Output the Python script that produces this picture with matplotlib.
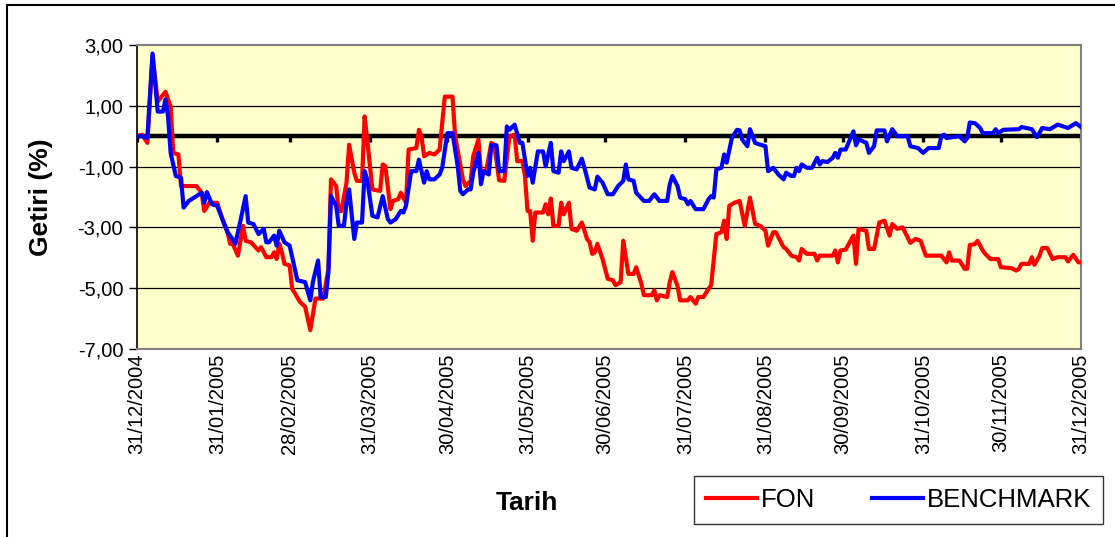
import numpy as np
import pandas as pd
import matplotlib
matplotlib.use('Agg')
import matplotlib.pyplot as plt
from matplotlib.patches import Rectangle

plt.rcParams['font.family'] = ['Liberation Sans', 'DejaVu Sans']

# days since 31/12/2004 and daily return (%)
fon_day = [0, 2, 4, 6, 8, 11, 13, 14, 16, 17, 23, 25, 26, 28, 31, 33, 35, 36, 37, 39,
           41, 42, 44, 47, 48, 50, 52, 53, 54, 55, 56, 57, 59, 60, 63, 65, 67, 69, 72, 74,
           75, 77, 78, 79, 81, 82, 84, 85, 87, 88, 89, 91, 94, 95, 96, 98, 99, 101, 102, 104,
           105, 108, 109, 110, 111, 113, 115, 117, 119, 122, 123, 126, 127, 129, 130, 132, 133, 135, 137, 138,
           139, 140, 142, 144, 146, 147, 149, 150, 151, 152, 153, 154, 157, 158, 159, 160, 161, 163, 164, 165,
           167, 168, 170, 172, 174, 175, 176, 177, 178, 180, 182, 184, 185, 187, 188, 190, 192, 193, 195, 196,
           199, 200, 201, 202, 205, 206, 207, 209, 210, 213, 214, 216, 217, 219, 221, 222, 224, 226, 227, 228,
           229, 231, 233, 235, 237, 239, 241, 243, 244, 246, 247, 250, 251, 253, 255, 256, 257, 259, 262, 263,
           264, 269, 270, 271, 272, 274, 277, 278, 279, 282, 283, 285, 287, 289, 291, 292, 294, 296, 297, 299,
           301, 303, 305, 311, 313, 314, 315, 318, 320, 321, 322, 324, 325, 327, 328, 330, 333, 334, 338, 340,
           341, 342, 345, 346, 347, 349, 350, 352, 354, 356, 359, 360, 362, 364, 365]
fon_val = [0.0, 0.05, -0.22, 2.66, 1.14, 1.46, 0.97, -0.55, -0.6, -1.64, -1.64, -1.86, -2.46, -2.19, -2.19, -2.73, -3.16, -3.54, -3.54, -3.93,
           -2.95, -3.44, -3.49, -3.76, -3.65, -3.98, -3.98, -3.82, -4.04, -3.54, -3.82, -4.2, -4.25, -5.02, -5.45, -5.61, -6.38, -5.34, -5.34, -4.36,
           -1.42, -1.64, -2.46, -2.46, -1.53, -0.28, -1.2, -1.47, -1.47, 0.65, -0.11, -1.75, -1.8, -0.93, -0.98, -2.4, -2.13, -2.07, -1.86, -2.19,
           -0.44, -0.39, 0.21, 0.0, -0.66, -0.55, -0.6, -0.44, 1.3, 1.3, 0.0, -1.42, -1.64, -1.47, -0.66, -0.11, -1.2, -1.15, -0.22, -0.28,
           -0.8, -1.45, -1.47, 0.0, 0.05, -0.82, -0.82, -1.31, -2.46, -2.46, -3.44, -2.51, -2.51, -2.24, -2.57, -2.05, -2.95, -2.95, -2.19, -2.57,
           -2.19, -3.05, -3.11, -2.84, -3.38, -3.49, -3.87, -3.82, -3.54, -4.04, -4.69, -4.74, -4.9, -4.8, -3.44, -4.53, -4.53, -4.31, -4.85, -5.23,
           -5.23, -5.07, -5.4, -5.23, -5.29, -4.8, -4.47, -4.93, -5.4, -5.4, -5.29, -5.51, -5.29, -5.29, -5.02, -4.9, -3.22, -3.16, -2.78, -3.38,
           -2.29, -2.19, -2.13, -2.95, -2.02, -2.89, -2.95, -3.11, -3.6, -3.16, -3.16, -3.65, -3.71, -3.93, -3.98, -4.09, -3.71, -3.87, -3.87, -4.09,
           -3.93, -3.93, -3.76, -4.15, -3.76, -3.73, -3.27, -4.2, -3.05, -3.11, -3.71, -3.71, -2.84, -2.78, -3.27, -2.89, -3.05, -3.0, -3.16, -3.51,
           -3.38, -3.44, -3.93, -3.93, -4.15, -3.82, -4.09, -4.09, -4.36, -4.36, -3.58, -3.55, -3.44, -3.76, -3.87, -4.04, -4.04, -4.31, -4.34, -4.42,
           -4.36, -4.2, -4.2, -3.98, -4.23, -3.93, -3.68, -3.68, -4.04, -3.98, -3.98, -4.12, -3.9, -4.15, -4.15]

bm_day = [0, 2, 4, 6, 8, 10, 11, 12, 13, 15, 17, 18, 20, 23, 25, 26, 27, 29, 31, 33,
          35, 36, 38, 40, 42, 43, 45, 47, 49, 50, 51, 53, 54, 55, 57, 59, 61, 62, 65, 67,
          68, 70, 71, 73, 74, 75, 77, 78, 80, 81, 82, 84, 85, 87, 88, 89, 91, 93, 95, 97,
          98, 100, 102, 103, 104, 106, 108, 109, 111, 112, 113, 115, 117, 118, 120, 122, 124, 125, 126, 128,
          129, 130, 132, 133, 134, 136, 137, 139, 140, 142, 143, 144, 146, 148, 149, 151, 152, 153, 155, 157,
          158, 160, 161, 163, 164, 165, 167, 168, 170, 172, 173, 175, 177, 178, 180, 182, 184, 186, 188, 189,
          190, 192, 193, 196, 198, 200, 202, 205, 206, 207, 209, 210, 212, 213, 214, 216, 219, 221, 222, 223,
          224, 226, 227, 228, 230, 232, 233, 234, 236, 237, 239, 241, 243, 244, 246, 248, 250, 251, 253, 254,
          255, 256, 257, 259, 261, 263, 264, 265, 267, 269, 270, 271, 272, 274, 277, 278, 279, 282, 283, 285,
          286, 289, 290, 292, 294, 298, 299, 302, 304, 306, 310, 311, 312, 313, 318, 320, 321, 322, 324, 326,
          327, 331, 332, 333, 335, 341, 342, 346, 348, 350, 353, 356, 360, 363, 365]
bm_val = [0.0, 0.0, -0.06, 2.72, 0.81, 0.81, 1.21, 0.65, -0.55, -1.31, -1.37, -2.35, -2.13, -1.97, -1.86, -2.19, -1.84, -2.24, -2.29, -2.73,
          -3.16, -3.27, -3.54, -2.78, -1.97, -2.84, -2.89, -3.22, -3.05, -3.49, -3.49, -3.27, -3.6, -3.11, -3.49, -3.6, -4.36, -4.74, -4.8, -5.4,
          -4.8, -4.09, -5.29, -5.29, -4.47, -1.97, -2.29, -2.95, -2.95, -2.19, -1.75, -3.38, -2.84, -2.84, -1.15, -1.42, -2.62, -2.67, -1.97, -2.73,
          -2.84, -2.73, -2.46, -2.51, -2.29, -1.15, -1.15, -0.77, -1.53, -1.15, -1.42, -1.42, -1.26, -1.04, 0.1, 0.1, -0.99, -1.8, -1.91, -1.75,
          -1.75, -1.2, -0.55, -1.58, -1.15, -1.26, -0.3, -0.3, -1.15, -1.15, 0.32, 0.21, 0.38, -0.22, -0.22, -1.31, -1.04, -1.53, -0.5, -0.5,
          -0.99, -0.22, -1.15, -1.2, -0.5, -0.82, -0.5, -1.04, -1.09, -0.74, -1.04, -1.69, -1.75, -1.33, -1.53, -1.91, -1.91, -1.64, -1.47, -0.93,
          -1.42, -1.47, -1.86, -2.13, -2.13, -1.91, -2.13, -2.13, -1.58, -1.31, -1.64, -2.02, -2.07, -2.24, -2.13, -2.4, -2.4, -2.07, -1.97, -2.02,
          -1.09, -1.04, -0.6, -0.87, -0.06, 0.21, 0.19, -0.11, -0.33, 0.23, -0.22, -0.28, -0.33, -1.15, -1.04, -1.26, -1.42, -1.2, -1.31, -1.31,
          -1.04, -1.15, -0.93, -1.04, -1.04, -0.71, -0.93, -0.82, -0.85, -0.71, -0.55, -0.71, -0.44, -0.44, 0.16, -0.3, -0.1, -0.22, -0.55, -0.33,
          0.19, 0.19, -0.17, 0.23, 0.0, 0.0, -0.33, -0.39, -0.55, -0.39, -0.39, 0.0, 0.05, -0.06, 0.0, -0.17, -0.06, 0.45, 0.43, 0.27,
          0.1, 0.1, 0.23, 0.1, 0.21, 0.23, 0.3, 0.23, -0.03, 0.27, 0.23, 0.38, 0.27, 0.43, 0.3]

tick_labels = ['31/12/2004', '31/01/2005', '28/02/2005', '31/03/2005', '30/04/2005', '31/05/2005',
               '30/06/2005', '31/07/2005', '31/08/2005', '30/09/2005', '31/10/2005', '30/11/2005',
               '31/12/2005']
y_ticks = [-7, -5, -3, -1, 1, 3]

start = pd.Timestamp('2004-12-31')
fon_dates = start + pd.to_timedelta(fon_day, unit='D')
bm_dates = start + pd.to_timedelta(bm_day, unit='D')
tick_dates = pd.to_datetime(tick_labels, format='%d/%m/%Y')

fig = plt.figure(figsize=(11.15, 5.37), dpi=100)
ax = fig.add_axes([0.1229, 0.3501, 0.8466, 0.5661])
ax.set_facecolor('#FFFFCC')

# outer chart frame
fig.patches.append(Rectangle((0.0063, -0.05), 1.2, 1.0407, transform=fig.transFigure,
                             fill=False, edgecolor='black', linewidth=1.5))

for y in y_ticks[1:-1]:
    ax.axhline(y, color='black', linewidth=0.9, zorder=1)

# x axis crossing at zero with month-end tick marks
ax.axhline(0, color='black', linewidth=3.2, zorder=2)
ax.vlines(tick_dates, -0.2, 0, color='black', linewidth=2.4, zorder=2)

ax.plot(fon_dates, fon_val, color='#FF0000', linewidth=3.0, label='FON', zorder=3,
        solid_joinstyle='round')
ax.plot(bm_dates, bm_val, color='#0000FF', linewidth=3.0, label='BENCHMARK', zorder=4,
        solid_joinstyle='round')

ax.set_xlim(tick_dates[0], tick_dates[-1])
ax.set_ylim(-7, 3)
ax.set_yticks(y_ticks)
ax.set_yticklabels([f'{v:.2f}'.replace('.', ',') for v in y_ticks], fontsize=14.5)
ax.set_xticks(tick_dates)
ax.set_xticklabels(tick_labels, rotation=90, fontsize=14.5, va='top', ha='center')
ax.tick_params(axis='x', length=0, pad=3)
ax.tick_params(axis='y', direction='out', length=6, width=1, pad=4)

for side in ['top', 'right', 'bottom']:
    ax.spines[side].set_color('#808080')
    ax.spines[side].set_linewidth(1.5)
ax.spines['left'].set_color('black')
ax.spines['left'].set_linewidth(1.2)

fig.text(0.037, 0.633, 'Getiri (%)', rotation=90, fontsize=19, fontweight='bold',
         ha='center', va='center')
fig.text(0.473, 0.063, 'Tarih', fontsize=19, fontweight='bold', ha='center', va='center')

leg = ax.legend(loc='center', bbox_to_anchor=(0.6206, 0.0223, 0.3704, 0.0931),
                bbox_transform=fig.transFigure, ncol=2, fontsize=18.5, frameon=True,
                fancybox=False, edgecolor='black', handlelength=2.0, handletextpad=0.15,
                columnspacing=2.2, borderaxespad=0, borderpad=0.45)
leg.get_frame().set_linewidth(1.0)
for line in leg.get_lines():
    line.set_linewidth(3)

fig.savefig('out.png', dpi=100)
